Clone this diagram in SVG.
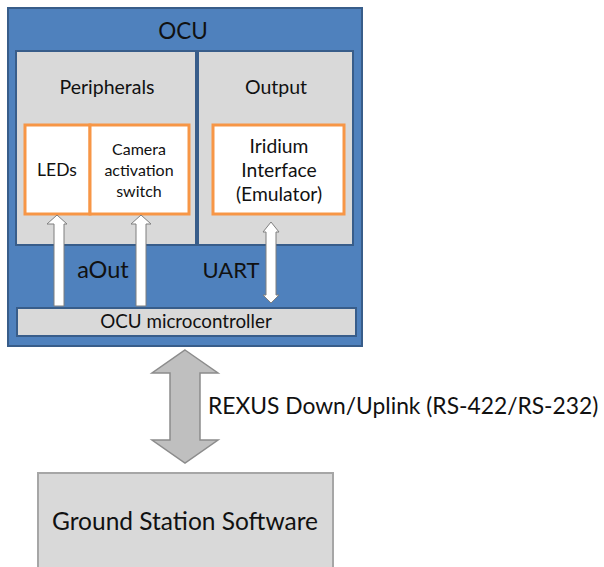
<svg xmlns="http://www.w3.org/2000/svg" width="604" height="567" viewBox="0 0 604 567">
<style>
text{font-family:Lato,"Open Sans",sans-serif;fill:#111;text-anchor:middle}
.blue{fill:#4F81BD;stroke:#385D8A;stroke-width:2}
.gray{fill:#D9D9D9;stroke:#385D8A;stroke-width:2}
.white{fill:#fff;stroke:#F79646;stroke-width:3}
.warr{fill:#fff;stroke:#7F7F7F;stroke-width:1}
</style>
<rect width="604" height="567" fill="#fff"/>
<g id="ocu">
<rect class="blue" x="8" y="8" width="354" height="338"/>
<text x="183" y="39" font-size="22.5">OCU</text>
</g>
<g id="peripherals">
<rect class="gray" x="16" y="51" width="180" height="194"/>
<text x="107" y="94" font-size="19.5">Peripherals</text>
</g>
<g id="output">
<rect class="gray" x="198" y="51" width="155" height="194"/>
<text x="276" y="94" font-size="19.5">Output</text>
</g>
<g id="leds">
<rect class="white" x="25" y="125" width="65" height="89"/>
<text x="57" y="176" font-size="17.5">LEDs</text>
</g>
<g id="camera">
<rect class="white" x="90" y="125" width="99" height="89"/>
<text x="139" y="155" font-size="16">Camera</text>
<text x="139" y="176" font-size="16">activation</text>
<text x="139" y="197" font-size="16">switch</text>
</g>
<g id="iridium">
<rect class="white" x="213" y="125" width="131" height="89"/>
<text x="279" y="153" font-size="19.3">Iridium</text>
<text x="279" y="177" font-size="19.3">Interface</text>
<text x="279" y="201" font-size="19.3">(Emulator)</text>
</g>
<g id="mcu">
<rect class="gray" x="17" y="308" width="339" height="28"/>
<text x="186" y="328" font-size="18.8">OCU microcontroller</text>
</g>
<g id="ground">
<rect x="38" y="473" width="295" height="100" fill="#D9D9D9" stroke="#A6A6A6" stroke-width="2"/>
<text x="185" y="530" font-size="24.5">Ground Station Software</text>
</g>
<g id="connectors">
<path class="warr" d="M54,306 V224 H47 L57,215 L67,224 H64 V306 Z"/>
<path class="warr" d="M136,306 V224 H131 L141,215 L151,224 H146 V306 Z"/>
<path class="warr" d="M271,222 L279,232 H276 V295 H279 L271,303 L263,295 H266 V232 H263 Z"/>
<path d="M185,350 L218,373 H200 V440 H218 L185,463 L152,440 H170 V373 H152 Z" fill="#BFBFBF" stroke="#8C8C8C" stroke-width="1.5"/>
<text x="103" y="278" font-size="23.5">aOut</text>
<text x="231" y="278" font-size="22">UART</text>
<text x="208" y="414" font-size="22.8" style="text-anchor:start">REXUS Down/Uplink (RS-422/RS-232)</text>
</g>
</svg>
